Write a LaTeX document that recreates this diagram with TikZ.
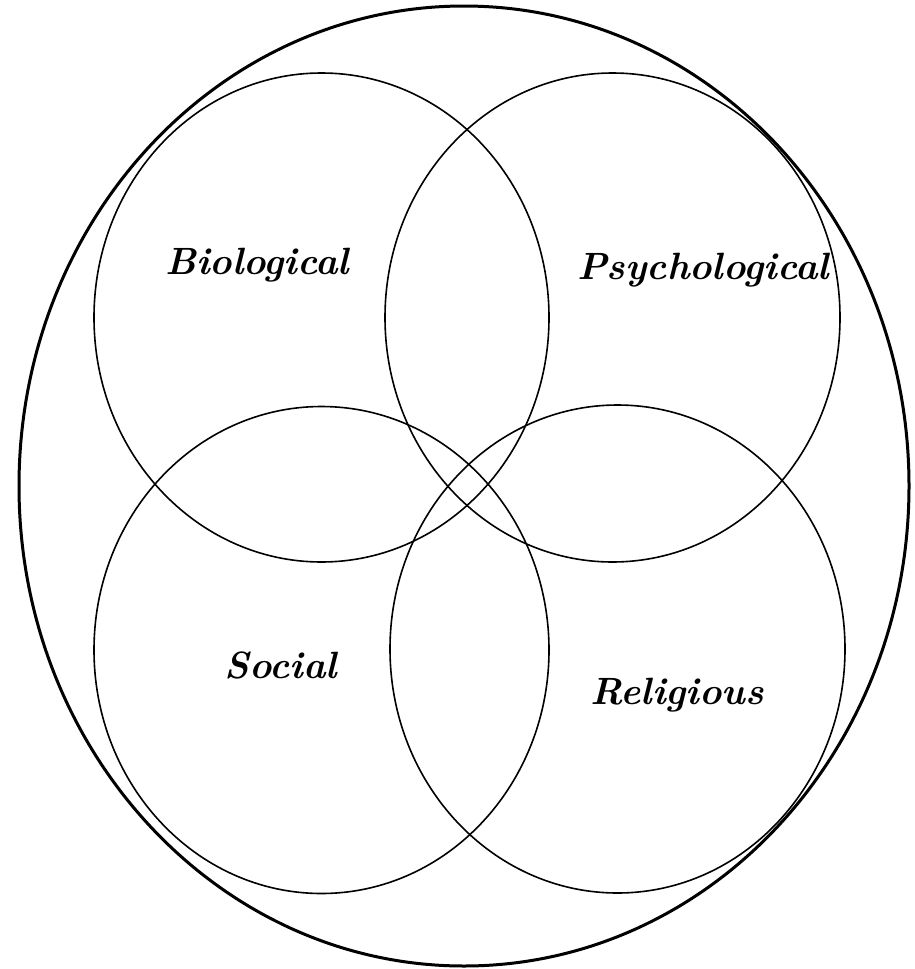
\documentclass[tikz,border=0pt]{standalone}
\begin{document}
\begin{tikzpicture}[x=1pt,y=-1pt,
  outerline/.style={line width=3pt},
  ring/.style={line width=1.6pt},
  lbl/.style={font=\fontsize{38}{42}\selectfont\bfseries\itshape, inner sep=0pt}]
\useasboundingbox (0,0) rectangle (914,969);
\draw[outerline] (464,486) ellipse [x radius=445, y radius=480];
\draw[ring] (321.5,317.5) ellipse [x radius=227.5, y radius=244.5];
\draw[ring] (612.5,317.5) ellipse [x radius=227.5, y radius=244.5];
\draw[ring] (321.5,650) ellipse [x radius=227.5, y radius=243.5];
\draw[ring] (617.5,649) ellipse [x radius=227.5, y radius=244];
\node[lbl] (bio) at (257,265) {Biological};
\node[lbl] (psy) at (703,270) {Psychological};
\node[lbl] (soc) at (281,665) {Social};
\node[lbl] (rel) at (677,695) {Religious};
\end{tikzpicture}
\end{document}
